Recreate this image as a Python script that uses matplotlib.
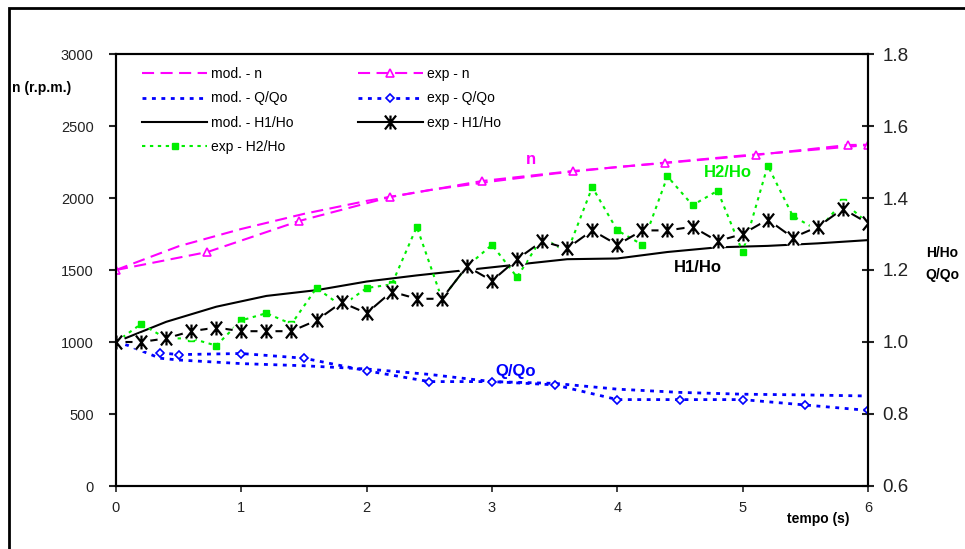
import matplotlib
matplotlib.use("Agg")
import matplotlib.pyplot as plt
from matplotlib.patches import Rectangle
from matplotlib.path import Path

plt.rcParams['font.family'] = ['Liberation Sans', 'DejaVu Sans']

# model / experiment, speed n (r.p.m.) on left axis
t_mod_n = [0, 0.5, 1.0, 1.5, 2.0, 2.5, 3.0, 3.5, 4.0, 4.5, 5.0, 5.5, 6.0]
mod_n = [1500, 1665, 1785, 1890, 1980, 2055, 2115, 2170, 2215, 2255, 2295, 2330, 2368]
t_exp_n = [0, 0.73, 1.46, 2.19, 2.92, 3.65, 4.38, 5.11, 5.84, 6.0]
exp_n = [1500, 1625, 1840, 2007, 2118, 2188, 2243, 2299, 2368, 2370]

# Q/Qo on right axis
t_mod_q = [0, 0.1, 0.35, 0.5, 1.0, 1.5, 2.0, 2.5, 3.0, 3.5, 4.0, 4.5, 5.0, 5.5, 6.0]
mod_q = [1.0, 0.99, 0.955, 0.95, 0.94, 0.934, 0.925, 0.91, 0.89, 0.885, 0.869, 0.86, 0.855, 0.853, 0.85]
t_exp_q = [0.35, 0.5, 1.0, 1.5, 2.0, 2.5, 3.0, 3.5, 4.0, 4.5, 5.0, 5.5, 6.0]
exp_q = [0.97, 0.965, 0.968, 0.955, 0.92, 0.89, 0.89, 0.881, 0.84, 0.84, 0.84, 0.825, 0.81]

# H1/Ho, H2/Ho on right axis
t_mod_h1 = [0, 0.4, 0.8, 1.2, 1.6, 2.0, 2.4, 2.8, 3.2, 3.6, 4.0, 4.4, 4.8, 5.2, 5.6, 6.0]
mod_h1 = [1.0, 1.056, 1.098, 1.128, 1.144, 1.168, 1.185, 1.2, 1.215, 1.23, 1.232, 1.25, 1.263, 1.267, 1.274, 1.283]
t_exp = [round(0.2 * i, 1) for i in range(31)]
exp_h1 = [1.00, 1.00, 1.01, 1.03, 1.04, 1.03, 1.03, 1.03, 1.06, 1.11, 1.08, 1.14, 1.12, 1.12, 1.21, 1.17,
          1.23, 1.28, 1.26, 1.31, 1.27, 1.31, 1.31, 1.32, 1.28, 1.30, 1.34, 1.29, 1.32, 1.37, 1.33]
t_exp_h2 = t_exp + [6.2]
exp_h2 = [1.00, 1.05, 1.01, 1.01, 0.99, 1.06, 1.08, 1.05, 1.15, 1.10, 1.15, 1.16, 1.32, 1.12, 1.21, 1.27,
          1.18, 1.29, 1.25, 1.43, 1.31, 1.27, 1.46, 1.38, 1.42, 1.25, 1.49, 1.35, 1.31, 1.39, 1.33, 1.42]

MAG = '#ff00ff'
BLUE = '#0000ff'
GREEN = '#00ee00'
# excel-style star: an X with a vertical bar through it
STAR = Path([(-0.8, -1), (0.8, 1), (-0.8, 1), (0.8, -1), (0, -1), (0, 1)],
            [Path.MOVETO, Path.LINETO, Path.MOVETO, Path.LINETO, Path.MOVETO, Path.LINETO])

fig = plt.figure(figsize=(9.65, 5.49), dpi=100)
ax = fig.add_axes([116 / 965, 63 / 549, 752 / 965, 432 / 549])
ax2 = ax.twinx()

# left axis: n
l1, = ax.plot(t_mod_n, mod_n, color=MAG, lw=1.5, dashes=(5.8, 3.1), label='mod. - n')
l2, = ax.plot(t_exp_n, exp_n, color=MAG, lw=1.5, dashes=(5.8, 3.1), marker='^', ms=6,
              mfc='white', mec=MAG, mew=1.2, label='exp - n')

# right axis
l3, = ax2.plot(t_mod_q, mod_q, color=BLUE, lw=2, dashes=(1.4, 2.0), label='mod. - Q/Qo')
l4, = ax2.plot(t_exp_q, exp_q, color=BLUE, lw=2, dashes=(1.4, 2.0), marker='D', ms=4.5,
               mfc='white', mec=BLUE, mew=1.2, label='exp - Q/Qo')
l5, = ax2.plot(t_mod_h1, mod_h1, color='black', lw=1.5, label='mod. - H1/Ho')
l7, = ax2.plot(t_exp_h2, exp_h2, color=GREEN, lw=1.5, dashes=(1.6, 2.2), marker='s', ms=5,
               mfc=GREEN, mec=GREEN, label='exp - H2/Ho')
# exp H1: line with white halo round each star, as in the source chart
ax2.plot(t_exp, exp_h1, color='black', lw=1.5)
ax2.plot(t_exp, exp_h1, ls='none', marker='o', ms=13, mfc='white', mec='none')
ax2.plot(t_exp, exp_h1, ls='none', marker=STAR, ms=10, mec='black', mew=1.6)
l6, = ax2.plot([], [], color='black', lw=1.5, marker=STAR, ms=10, mec='black', mew=1.6,
               label='exp - H1/Ho')

ax.set_xlim(0, 6)
ax.set_ylim(0, 3000)
ax2.set_ylim(0.6, 1.8)
ax.set_xticks(range(7))
ax.set_yticks(range(0, 3001, 500))
ax2.set_yticks([0.6, 0.8, 1.0, 1.2, 1.4, 1.6, 1.8])
ax2.set_yticklabels([f'{v:.1f}' for v in [0.6, 0.8, 1.0, 1.2, 1.4, 1.6, 1.8]])

for a in (ax, ax2):
    for s in a.spines.values():
        s.set_linewidth(1.5)
ax.tick_params(axis='y', direction='out', length=5, width=1.5, pad=11, labelsize=10.5, colors='#222222')
ax.tick_params(axis='x', direction='out', length=4, width=1.2, pad=7, labelsize=10.5, colors='#222222')
ax2.tick_params(axis='y', direction='inout', length=9, width=1.5, pad=6, labelsize=13.5, colors='#222222')

# inline series labels
ax.text(3.31, 2264, 'n', color=MAG, fontsize=12, fontweight='bold', ha='center', va='center')
ax2.text(4.88, 1.472, 'H2/Ho', color=GREEN, fontsize=12, fontweight='bold', ha='center', va='center')
ax2.text(4.64, 1.206, 'H1/Ho', color='black', fontsize=12, fontweight='bold', ha='center', va='center')
ax2.text(3.19, 0.919, 'Q/Qo', color=BLUE, fontsize=12, fontweight='bold', ha='center', va='center')

# axis titles
fig.text(12 / 965, 1 - 88 / 549, 'n (r.p.m.)', fontsize=10, fontweight='bold', ha='left', va='center')
fig.text(818 / 965, 1 - 519 / 549, 'tempo (s)', fontsize=10, fontweight='bold', ha='center', va='center')
fig.text(942 / 965, 1 - 253 / 549, 'H/Ho', fontsize=10, fontweight='bold', ha='center', va='center')
fig.text(942 / 965, 1 - 275 / 549, 'Q/Qo', fontsize=10, fontweight='bold', ha='center', va='center')

handles = [l1, l3, l5, l7, l2, l4, l6]
ax2.legend(handles=handles, loc='upper left', bbox_to_anchor=(142 / 965, 1 - 67 / 549),
           bbox_transform=fig.transFigure, ncol=2, frameon=False, fontsize=10,
           handlelength=4.7, handletextpad=0.3, columnspacing=4.6, labelspacing=0.75,
           borderpad=0, borderaxespad=0, numpoints=1)

# chart-area frame
fig.add_artist(Rectangle((9 / 965, -0.1), 1.2, 1 - 8 / 549 + 0.1, transform=fig.transFigure,
                         fill=False, lw=2, ec='black'))

fig.savefig('out.png', dpi=100)
